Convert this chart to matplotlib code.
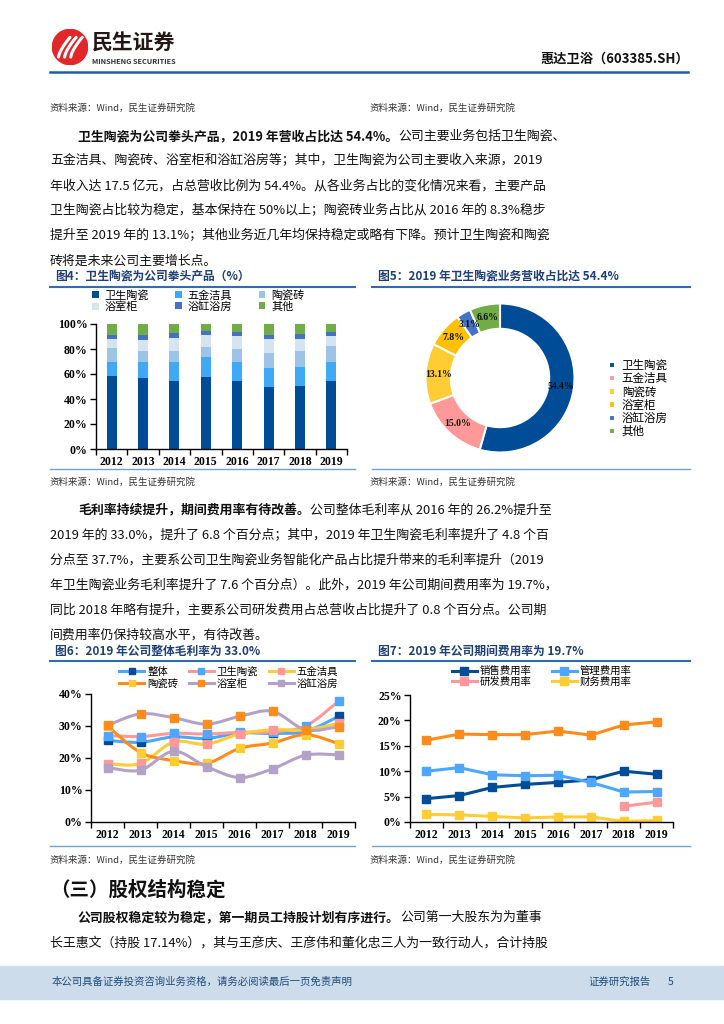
import matplotlib
matplotlib.use('Agg')
import matplotlib.pyplot as plt
import numpy as np
from matplotlib.path import Path
from matplotlib.patches import PathPatch, Circle, Rectangle
from matplotlib.lines import Line2D

plt.rcParams['font.family'] = ['Noto Sans CJK SC', 'DejaVu Sans']

W, H = 724, 1024

# ---------------- data ----------------
years = ['2012', '2013', '2014', '2015', '2016', '2017', '2018', '2019']
seg_names = ['卫生陶瓷', '五金洁具', '陶瓷砖', '浴室柜', '浴缸浴房', '其他']

# 图4 营收结构 (%)
share_wsts = [58.5, 56.8, 54.5, 58.0, 54.5, 49.8, 50.5, 54.4]
share_wjjj = [11.2, 13.0, 14.8, 16.0, 15.0, 15.2, 15.0, 15.0]
share_tcz = [11.1, 8.7, 9.3, 7.7, 10.5, 12.0, 13.0, 13.1]
share_ysg = [7.2, 9.0, 9.9, 9.3, 10.5, 11.0, 9.5, 7.8]
share_ygyf = [3.5, 4.0, 4.5, 3.3, 3.0, 3.5, 4.0, 3.1]
share_other = [8.5, 8.5, 7.0, 5.7, 6.5, 8.5, 8.0, 6.6]

# 图5 2019 营收占比 (%)
pie_2019 = [54.4, 15.0, 13.1, 7.8, 3.1, 6.6]

# 图6 毛利率 (%)
gm_names = ['整体', '卫生陶瓷', '五金洁具', '陶瓷砖', '浴室柜', '浴缸浴房']
gm_total = [25.5, 24.9, 26.6, 26.1, 27.8, 27.7, 28.3, 33.0]
gm_wsts = [27.0, 26.7, 27.7, 27.5, 28.0, 28.2, 30.0, 37.7]
gm_wjjj = [18.2, 18.3, 25.0, 24.3, 27.5, 28.8, 28.8, 30.8]
gm_tcz = [30.0, 21.7, 19.2, 18.3, 23.0, 24.7, 27.3, 24.5]
gm_ysg = [30.2, 33.8, 32.6, 30.6, 33.0, 34.6, 28.8, 29.8]
gm_ygyf = [17.0, 16.2, 22.1, 17.3, 13.9, 16.6, 20.9, 21.0]

# 图7 费用率 (%)
exp_names = ['销售费用率', '管理费用率', '研发费用率', '财务费用率', '期间费用率']
exp_sales = [4.6, 5.2, 6.8, 7.4, 7.8, 8.3, 10.0, 9.4]
exp_admin = [10.0, 10.7, 9.3, 9.1, 9.2, 7.8, 5.9, 6.0]
exp_rd = [np.nan, np.nan, np.nan, np.nan, np.nan, np.nan, 3.1, 3.9]
exp_fin = [1.5, 1.4, 1.1, 0.8, 1.0, 1.0, 0.1, 0.3]
exp_period = [16.1, 17.3, 17.2, 17.2, 17.9, 17.1, 19.1, 19.7]

# ---------------- helpers ----------------
fig = plt.figure(figsize=(W / 100, H / 100), dpi=100)


def ftext(x, y, s, **kw):
    kw.setdefault('va', 'center')
    return fig.text(x / W, 1 - y / H, s, **kw)


def hline(x0, x1, y, color, lw):
    fig.add_artist(Line2D([x0 / W, x1 / W], [1 - y / H, 1 - y / H],
                          transform=fig.transFigure, color=color, lw=lw))


def ax_px(x0, y_top, x1, y_bot):
    return fig.add_axes([x0 / W, 1 - y_bot / H, (x1 - x0) / W, (y_bot - y_top) / H])


renderer = fig.canvas.get_renderer()
BODY = 9.3


def para_line(x, y, bold, normal=''):
    xx = x
    if bold:
        t = ftext(xx, y, bold, fontsize=BODY, weight='bold', color='#111111')
        xx = t.get_window_extent(renderer).x1
    if normal:
        ftext(xx, y, normal, fontsize=BODY, color='#111111')


serif_tick = dict(family=['Liberation Serif', 'DejaVu Serif'], weight='bold', size=8.5)
TITLE_C = '#1F3F77'
LINE_C = '#2E6DB4'


def style_axes(ax):
    for s in ['top', 'right']:
        ax.spines[s].set_visible(False)
    for s in ['left', 'bottom']:
        ax.spines[s].set_color('black')
        ax.spines[s].set_linewidth(1)
    ax.set_xlim(-0.5, len(years) - 0.5)
    ax.set_xticks(range(len(years)))
    ax.set_xticklabels(years, fontdict=serif_tick)
    ax.set_xticks(np.arange(-0.5, len(years), 1), minor=True)
    ax.tick_params(axis='x', which='major', length=0, pad=5)
    ax.tick_params(axis='x', which='minor', length=4, direction='out', width=1)
    ax.tick_params(axis='y', length=4, direction='out', width=1, pad=2)


def set_yticks(ax, ticks):
    ax.set_yticks(ticks)
    ax.set_yticklabels([f'{t}%' for t in ticks], fontdict=serif_tick)


def smooth_path(xs, ys):
    pts = np.column_stack([xs, ys])
    verts = [pts[0]]
    codes = [Path.MOVETO]
    n = len(pts)
    for i in range(n - 1):
        p0 = pts[i - 1] if i > 0 else pts[i]
        p1, p2 = pts[i], pts[i + 1]
        p3 = pts[i + 2] if i + 2 < n else pts[i + 1]
        verts += [p1 + (p2 - p0) / 6, p2 - (p3 - p1) / 6, p2]
        codes += [Path.CURVE4] * 3
    return Path(verts, codes)


# ---------------- header ----------------
ax_logo = ax_px(52, 29, 88, 65)
ax_logo.set_xlim(0, 1)
ax_logo.set_ylim(0, 1)
ax_logo.set_aspect('equal')
ax_logo.axis('off')
ax_logo.add_patch(Circle((0.5, 0.5), 0.49, color='#E3262A'))
for k in range(3):
    xs = np.linspace(0.18 + 0.17 * k, 0.5 + 0.17 * k, 20)
    ys = 0.22 + 0.55 * ((xs - xs[0]) / (xs[-1] - xs[0])) ** 0.7
    ax_logo.plot(xs, ys, color='white', lw=2.2, solid_capstyle='round')

ftext(92, 43, '民生证券', fontsize=15, weight='bold', color='#231815')
ftext(92, 61, 'MINSHENG SECURITIES', fontsize=5.3, weight='bold', color='#333333')
ftext(689, 59, '惠达卫浴（603385.SH）', fontsize=9.5, weight='bold', ha='right', color='#111111')
hline(50, 688, 72, '#1F5FA8', 1.8)

SRC = '资料来源：Wind，民生证券研究院'
ftext(50, 108, SRC, fontsize=6.8, color='#333333')
ftext(370, 108, SRC, fontsize=6.8, color='#333333')

# ---------------- paragraph 1 ----------------
para_line(78, 136, '卫生陶瓷为公司拳头产品，2019 年营收占比达 54.4%。', '公司主要业务包括卫生陶瓷、')
para_line(50, 161, '', '五金洁具、陶瓷砖、浴室柜和浴缸浴房等；其中，卫生陶瓷为公司主要收入来源，2019')
para_line(50, 186, '', '年收入达 17.5 亿元，占总营收比例为 54.4%。从各业务占比的变化情况来看，主要产品')
para_line(50, 211, '', '卫生陶瓷占比较为稳定，基本保持在 50%以上；陶瓷砖业务占比从 2016 年的 8.3%稳步')
para_line(50, 236, '', '提升至 2019 年的 13.1%；其他业务近几年均保持稳定或略有下降。预计卫生陶瓷和陶瓷')
para_line(50, 261, '', '砖将是未来公司主要增长点。')

# ---------------- figure titles 4/5 ----------------
ftext(55, 276, '图4：卫生陶瓷为公司拳头产品（%）', fontsize=8.5, weight='bold', color=TITLE_C)
ftext(378, 276, '图5：2019 年卫生陶瓷业务营收占比达 54.4%', fontsize=8.5, weight='bold', color=TITLE_C)
hline(50, 355, 287, LINE_C, 1.5)
hline(372, 690, 287, LINE_C, 1.5)
hline(50, 355, 469, '#6FA3D8', 1)
hline(372, 690, 469, '#6FA3D8', 1)
ftext(50, 482, SRC, fontsize=6.8, color='#333333')
ftext(370, 482, SRC, fontsize=6.8, color='#333333')

# ---------------- 图4 stacked bars ----------------
bar_colors = ['#004C97', '#3FA9F5', '#9DC3E6', '#D6E4F0', '#4472C4', '#70AD47']
stack = [share_wsts, share_wjjj, share_tcz, share_ysg, share_ygyf, share_other]
ax4 = ax_px(96, 324, 347, 449)
x = np.arange(len(years))
bottom = np.zeros(len(years))
bars = []
for vals, c, name in zip(stack, bar_colors, seg_names):
    b = ax4.bar(x, vals, 0.32, bottom=bottom, color=c, label=name)
    bars.append(b)
    bottom += np.array(vals)
style_axes(ax4)
ax4.set_ylim(0, 100)
set_yticks(ax4, [0, 20, 40, 60, 80, 100])
order = [0, 3, 1, 4, 2, 5]
ax4.legend([bars[i] for i in order], [seg_names[i] for i in order], ncol=3,
           loc='upper left', bbox_to_anchor=(92 / W, 1 - 290 / H), bbox_transform=fig.transFigure,
           frameon=False, fontsize=8, handlelength=0.6, handleheight=0.6, handletextpad=0.5,
           columnspacing=2.4, labelspacing=0.05, borderpad=0, borderaxespad=0)

# ---------------- 图5 donut ----------------
pie_colors = ['#004C97', '#FF9999', '#FFCC33', '#FFC000', '#4472C4', '#70AD47']
ax5 = ax_px(424, 302, 576, 454)
wedges, _, autotexts = ax5.pie(pie_2019, colors=pie_colors, startangle=90, counterclock=False,
                               radius=1, autopct='%.1f%%', pctdistance=0.83,
                               wedgeprops=dict(width=0.34, edgecolor='white', linewidth=1.5))
for t in autotexts:
    t.set_family(['Liberation Serif', 'DejaVu Serif'])
    t.set_weight('bold')
    t.set_fontsize(7)
    t.set_color('#111111')
ax5.set_xlim(-1.02, 1.02)
ax5.set_ylim(-1.02, 1.02)
ax5.set_aspect('equal')
ax5.legend(wedges, seg_names, loc='upper left', bbox_to_anchor=(609 / W, 1 - 359 / H),
           bbox_transform=fig.transFigure, frameon=False, fontsize=8.3, handlelength=0.5,
           handleheight=0.5, handletextpad=0.6, labelspacing=0.02, borderpad=0, borderaxespad=0)

# ---------------- paragraph 2 ----------------
para_line(78, 510, '毛利率持续提升，期间费用率有待改善。', '公司整体毛利率从 2016 年的 26.2%提升至')
para_line(50, 535, '', '2019 年的 33.0%，提升了 6.8 个百分点；其中，2019 年卫生陶瓷毛利率提升了 4.8 个百')
para_line(50, 560, '', '分点至 37.7%，主要系公司卫生陶瓷业务智能化产品占比提升带来的毛利率提升（2019')
para_line(50, 585, '', '年卫生陶瓷业务毛利率提升了 7.6 个百分点）。此外，2019 年公司期间费用率为 19.7%，')
para_line(50, 610, '', '同比 2018 年略有提升，主要系公司研发费用占总营收占比提升了 0.8 个百分点。公司期')
para_line(50, 635, '', '间费用率仍保持较高水平，有待改善。')

ftext(55, 651, '图6：2019 年公司整体毛利率为 33.0%', fontsize=8.5, weight='bold', color=TITLE_C)
ftext(378, 651, '图7：2019 年公司期间费用率为 19.7%', fontsize=8.5, weight='bold', color=TITLE_C)
hline(50, 355, 661, LINE_C, 1.5)
hline(372, 690, 661, LINE_C, 1.5)
hline(50, 355, 846, '#6FA3D8', 1)
hline(372, 690, 846, '#6FA3D8', 1)
ftext(50, 860, SRC, fontsize=6.8, color='#333333')
ftext(370, 860, SRC, fontsize=6.8, color='#333333')

# ---------------- 图6 smooth lines ----------------
DB, LB, PK, YL, OR, PU = '#004C97', '#4DA6FF', '#FF9999', '#FFCC33', '#FF8C1A', '#B3A2C7'
gm_series = [gm_total, gm_wsts, gm_wjjj, gm_tcz, gm_ysg, gm_ygyf]
gm_line_c = [LB, PK, YL, OR, PU, PU]
gm_mark_c = [DB, LB, PK, YL, OR, PU]
ax6 = ax_px(91, 694, 355, 822)
handles6 = []
for i, (vals, lc, mc) in enumerate(zip(gm_series, gm_line_c, gm_mark_c)):
    ax6.add_patch(PathPatch(smooth_path(x, vals), fill=False, edgecolor=lc, lw=2.2,
                            joinstyle='round', capstyle='round', zorder=2 + i))
    ax6.plot(x, vals, ls='none', marker='s', ms=5.5, color=mc, zorder=2.5 + i)
    handles6.append(Line2D([], [], color=lc, lw=2.2, marker='s', ms=5, markerfacecolor=mc,
                           markeredgecolor=mc))
style_axes(ax6)
ax6.set_ylim(0, 40)
set_yticks(ax6, [0, 10, 20, 30, 40])
order6 = [0, 3, 1, 4, 2, 5]
ax6.legend([handles6[i] for i in order6], [gm_names[i] for i in order6], ncol=3,
           loc='upper left', bbox_to_anchor=(119 / W, 1 - 667 / H), bbox_transform=fig.transFigure,
           frameon=False, fontsize=7.5, handlelength=2.4, handletextpad=0.3,
           columnspacing=1.0, labelspacing=0.15, borderpad=0, borderaxespad=0)

# ---------------- 图7 lines ----------------
exp_series = [exp_sales, exp_admin, exp_rd, exp_fin, exp_period]
exp_colors = [DB, LB, PK, YL, OR]
ax7 = ax_px(410, 695, 673, 822)
lines7 = []
for vals, c, name in zip(exp_series, exp_colors, exp_names):
    ln, = ax7.plot(x, vals, color=c, lw=2.2, marker='s', ms=5.5, label=name)
    lines7.append(ln)
style_axes(ax7)
ax7.set_ylim(0, 25)
set_yticks(ax7, [0, 5, 10, 15, 20, 25])
order7 = [0, 2, 1, 3]
ax7.legend([lines7[i] for i in order7], [exp_names[i] for i in order7], ncol=2,
           loc='upper left', bbox_to_anchor=(452 / W, 1 - 666 / H), bbox_transform=fig.transFigure,
           frameon=False, fontsize=7.5, handlelength=2.4, handletextpad=0.3,
           columnspacing=1.9, labelspacing=0.05, borderpad=0, borderaxespad=0)

# ---------------- section 3 ----------------
ftext(50, 890, '（三）股权结构稳定', fontsize=14, weight='bold', color='#111111')
para_line(78, 917, '公司股权稳定较为稳定，第一期员工持股计划有序进行。', '公司第一大股东为为董事')
para_line(50, 943, '', '长王惠文（持股 17.14%），其与王彦庆、王彦伟和董化忠三人为一致行动人，合计持股')

# ---------------- footer ----------------
fig.add_artist(Rectangle((0, 1 - 999 / H), 1, 33 / H, transform=fig.transFigure,
                         color='#CDDCEB', zorder=0))
ftext(52, 982, '本公司具备证券投资咨询业务资格，请务必阅读最后一页免责声明', fontsize=7.5, color='#1F4E79')
ftext(588, 982, '证券研究报告', fontsize=7.5, color='#1F4E79')
ftext(668, 982, '5', fontsize=7.5, color='#1F4E79')

fig.savefig('out.png', dpi=100)
